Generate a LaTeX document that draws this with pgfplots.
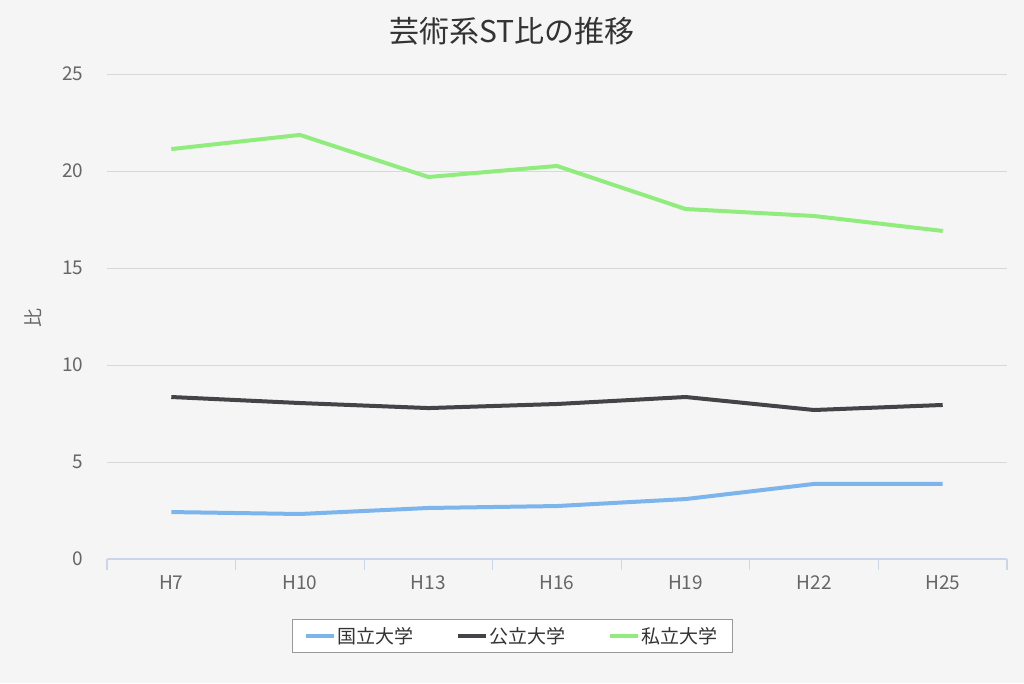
\documentclass[border=0pt]{standalone}
\usepackage{pgfplots}
\pgfplotsset{compat=1.18}
\usepackage{fontspec}
\setmainfont{Noto Sans CJK JP}
\definecolor{bg}{HTML}{F5F5F5}
\definecolor{sblue}{HTML}{7CB5EC}
\definecolor{sblack}{HTML}{434348}
\definecolor{sgreen}{HTML}{90ED7D}
\definecolor{axcol}{HTML}{CCD6EB}
\definecolor{gridcol}{HTML}{D8D8D8}
\definecolor{lab}{HTML}{666666}
\definecolor{ttl}{HTML}{333333}
\begin{document}
\begin{tikzpicture}[x=1pt,y=1pt]
\fill[bg] (0,0) rectangle (1024,683);
\useasboundingbox (0,0) rectangle (1024,683);
\node[ttl,font=\fontsize{30}{34}\selectfont] at (512,652) {芸術系ST比の推移};
\node[lab,rotate=90,font=\fontsize{19}{22}\selectfont] at (33,365) {比};
\begin{axis}[
  at={(107pt,124pt)}, anchor=south west,
  scale only axis, width=900pt, height=485pt,
  xmin=-0.5, xmax=6.5, ymin=0, ymax=25,
  axis line style={draw=none},
  xtick={-0.5,0.5,1.5,2.5,3.5,4.5,5.5,6.5},
  xticklabels={H7,H10,H13,H16,H19,H22,H25},
  x tick label as interval,
  xtick pos=bottom,
  major x tick style={draw=axcol, line width=1.2pt},
  major tick length=11pt,
  xtick align=outside,
  ytick={0,5,10,15,20,25},
  ymajorgrids, grid style={gridcol, line width=0.9pt},
  major y tick style={draw=none},
  tick label style={lab, font=\fontsize{19}{22}\selectfont},
  /pgf/number format/assume math mode=true,
  xticklabel style={yshift=-2pt},
  yticklabel style={xshift=-20pt},
  legend style={at={(0.45,-0.159)}, anchor=center, draw=gray!80, fill=white,
    line width=0.8pt, font=\fontsize{19}{22}\selectfont, text=ttl,
    legend columns=3, inner xsep=12pt, inner ysep=6pt,
    /tikz/every even column/.append style={column sep=40pt}},
  legend image code/.code={\draw[#1, line width=4pt] (0pt,0pt) -- (28pt,0pt);},
]
\addplot[sblue, line width=4pt, line join=round] coordinates {(0,2.42) (1,2.32) (2,2.63) (3,2.73) (4,3.09) (5,3.87) (6,3.87)};
\addlegendentry{国立大学}
\addplot[sblack, line width=4pt, line join=round] coordinates {(0,8.35) (1,8.04) (2,7.78) (3,7.99) (4,8.35) (5,7.68) (6,7.94)};
\addlegendentry{公立大学}
\addplot[sgreen, line width=4pt, line join=round] coordinates {(0,21.13) (1,21.86) (2,19.69) (3,20.26) (4,18.04) (5,17.68) (6,16.91)};
\addlegendentry{私立大学}
\draw[axcol, line width=1.2pt] (axis cs:-0.5,0) -- (axis cs:6.5,0);
\end{axis}
\end{tikzpicture}
\end{document}
